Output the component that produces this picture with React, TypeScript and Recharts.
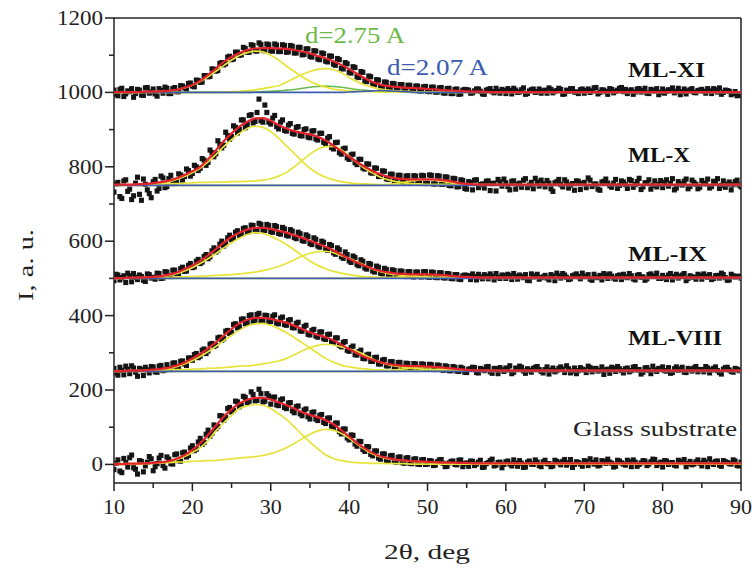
import React from 'react'
import { ComposedChart, Line, Scatter, XAxis, YAxis, ReferenceLine } from 'recharts'

// vertical shift of each pattern (stacked plot)
const OFFSETS = { glass: 0, viii: 250, ix: 500, x: 750, xi: 1000 }

const X_TICKS = [10, 15, 20, 25, 30, 35, 40, 45, 50, 55, 60, 65, 70, 75, 80, 85, 90]
const Y_TICKS = [0, 100, 200, 300, 400, 500, 600, 700, 800, 900, 1000, 1100, 1200]

// fit curves, sampled on FIT_X
const FIT_X = [
  10, 11, 12, 13, 14, 15, 16, 17, 18, 19,
  20, 21, 22, 23, 24, 25, 26, 27, 28, 29,
  30, 31, 32, 33, 34, 35, 36, 37, 38, 39,
  40, 41, 42, 43, 44, 45, 46, 47, 48, 49,
  50, 51, 52, 53, 54, 55, 56, 57, 58, 59,
  60, 65, 70, 75, 80, 85, 90,
]

const GLASS_FIT = [
  1, 1, 2, 2, 3, 4, 6, 9, 15, 25, 39, 57, 79, 104, 128, 148, 164, 174, 179, 179,
  174, 167, 159, 150, 140, 133, 127, 119, 108, 92, 75, 58, 43, 31, 22, 17, 13, 11, 9, 8,
  7, 6, 5, 5, 4, 4, 3, 3, 3, 3, 3, 3, 3, 3, 3, 3, 3,
]
const GLASS_P1 = [
  0, 0, 1, 1, 2, 3, 5, 8, 13, 21, 32, 45, 64, 90, 112, 132, 150, 157, 161, 159,
  150, 136, 121, 101, 80, 60, 42, 26, 16, 10, 7, 5, 4, 3, 3, 2, 2, 2, 1, 1,
  1, 1, 1, 1, 1, 1, 1, 1, 1, 1, 1, 1, 1, 1, 1, 1, 1,
]
const GLASS_P2 = [
  2, 2, 2, 3, 3, 4, 4, 5, 6, 7, 8, 9, 10, 11, 13, 15, 17, 19, 21, 24,
  29, 36, 45, 56, 69, 81, 90, 94, 92, 83, 70, 55, 40, 28, 20, 15, 12, 10, 8, 7,
  6, 5, 5, 4, 4, 4, 3, 3, 3, 3, 3, 3, 3, 3, 3, 3, 3,
]

const VIII_FIT = [
  1, 1, 2, 2, 3, 5, 7, 10, 16, 24, 35, 47, 62, 78, 96, 114, 129, 139, 144, 144,
  141, 136, 131, 123, 114, 105, 98, 92, 84, 72, 60, 49, 39, 31, 25, 20, 17, 15, 14, 14,
  13, 12, 10, 8, 6, 4, 3, 3, 2, 2, 2, 2, 2, 2, 2, 2, 2,
]
const VIII_P1 = [
  0, 0, 1, 1, 2, 3, 5, 8, 13, 20, 29, 40, 53, 67, 82, 97, 111, 122, 128, 129,
  124, 115, 104, 91, 77, 63, 49, 35, 25, 17, 12, 9, 7, 5, 4, 3, 3, 2, 2, 2,
  1, 1, 1, 1, 1, 1, 1, 1, 1, 1, 1, 1, 1, 1, 1, 1, 1,
]
const VIII_P2 = [
  1, 1, 2, 2, 2, 3, 3, 4, 5, 5, 6, 7, 8, 9, 10, 12, 14, 15, 17, 20,
  24, 28, 35, 45, 55, 64, 70, 73, 71, 66, 61, 54, 44, 33, 24, 18, 14, 11, 9, 7,
  6, 5, 4, 4, 3, 3, 2, 2, 2, 2, 2, 2, 2, 2, 2, 2, 2,
]
const VIII_P3 = [
  0, 0, 0, 0, 0, 0, 0, 0, 0, 0, 0, 0, 0, 0, 0, 0, 0, 0, 0, 0,
  0, 0, 0, 0, 0, 0, 0, 0, 0, 0, 0, 0, 0, 0, 1, 2, 4, 7, 10, 12,
  12, 11, 8, 5, 3, 2, 1, 0, 0, 0, 0, 0, 0, 0, 0, 0, 0,
]

const IX_FIT = [
  1, 1, 2, 2, 3, 4, 6, 10, 16, 25, 35, 47, 62, 79, 96, 112, 123, 131, 136, 136,
  133, 128, 123, 116, 109, 101, 93, 85, 75, 64, 53, 43, 34, 26, 20, 16, 13, 12, 11, 11,
  11, 10, 9, 7, 5, 4, 3, 2, 2, 2, 2, 2, 2, 2, 2, 2, 2,
]
const IX_P1 = [
  0, 0, 1, 1, 2, 3, 5, 8, 13, 20, 29, 40, 53, 67, 82, 96, 108, 118, 123, 121,
  113, 103, 91, 77, 61, 47, 35, 26, 19, 14, 10, 7, 5, 4, 3, 2, 2, 2, 1, 1,
  1, 1, 1, 1, 1, 1, 1, 1, 1, 1, 1, 1, 1, 1, 1, 1, 1,
]
const IX_P2 = [
  1, 1, 1, 2, 2, 2, 3, 3, 4, 4, 5, 6, 7, 8, 9, 10, 12, 14, 17, 21,
  26, 32, 40, 50, 60, 67, 72, 73, 69, 61, 54, 45, 35, 25, 18, 13, 10, 8, 6, 5,
  4, 3, 3, 2, 2, 2, 2, 2, 2, 2, 2, 2, 2, 2, 2, 2, 2,
]
const IX_P3 = [
  0, 0, 0, 0, 0, 0, 0, 0, 0, 0, 0, 0, 0, 0, 0, 0, 0, 0, 0, 0,
  0, 0, 0, 0, 0, 0, 0, 0, 0, 0, 0, 0, 0, 0, 1, 2, 3, 6, 8, 10,
  10, 9, 7, 4, 3, 2, 1, 0, 0, 0, 0, 0, 0, 0, 0, 0, 0,
]

const X_FIT = [
  2, 2, 2, 3, 4, 6, 9, 13, 19, 28, 38, 50, 70, 94, 119, 140, 158, 171, 180, 181,
  174, 162, 153, 146, 141, 137, 131, 121, 107, 92, 77, 63, 50, 39, 30, 23, 19, 17, 16, 16,
  16, 16, 14, 11, 7, 4, 3, 2, 2, 2, 2, 2, 2, 2, 2, 2, 2,
]
const X_P1 = [
  0, 0, 1, 1, 2, 4, 6, 10, 16, 24, 34, 46, 63, 83, 104, 123, 140, 153, 159, 156,
  145, 127, 106, 86, 65, 46, 32, 22, 15, 10, 7, 5, 4, 3, 2, 2, 2, 1, 1, 1,
  1, 1, 1, 1, 1, 1, 1, 1, 1, 1, 1, 1, 1, 1, 1, 1, 1,
]
const X_P2 = [
  1, 2, 2, 2, 3, 3, 4, 5, 5, 6, 7, 8, 8, 9, 9, 10, 10, 11, 12, 14,
  18, 25, 35, 50, 67, 84, 97, 104, 105, 96, 79, 61, 45, 33, 22, 15, 10, 7, 5, 4,
  3, 3, 3, 2, 2, 2, 2, 2, 2, 2, 2, 2, 2, 2, 2, 2, 2,
]
const X_P3 = [
  0, 0, 0, 0, 0, 0, 0, 0, 0, 0, 0, 0, 0, 0, 0, 0, 0, 0, 0, 0,
  0, 0, 0, 0, 0, 0, 0, 0, 0, 0, 0, 0, 0, 0, 1, 3, 5, 8, 12, 15,
  16, 14, 11, 7, 4, 2, 1, 0, 0, 0, 0, 0, 0, 0, 0, 0, 0,
]

const XI_FIT = [
  1, 1, 1, 1, 2, 2, 3, 4, 7, 13, 20, 31, 47, 64, 82, 95, 106, 114, 118, 119,
  119, 118, 117, 114, 110, 105, 98, 92, 84, 74, 63, 50, 38, 28, 21, 17, 15, 13, 12, 11,
  9, 8, 6, 5, 4, 3, 2, 2, 1, 1, 1, 1, 1, 1, 1, 1, 1,
]
const XI_P1 = [
  0, 0, 0, 0, 1, 2, 3, 4, 7, 12, 19, 29, 42, 57, 72, 87, 99, 107, 111, 109,
  100, 87, 71, 56, 42, 30, 21, 14, 9, 6, 4, 3, 2, 2, 1, 1, 1, 1, 1, 1,
  1, 1, 1, 1, 1, 1, 1, 1, 1, 1, 1, 1, 1, 1, 1, 1, 1,
]
const XI_P2 = [
  0, 0, 0, 0, 0, 0, 0, 0, 0, 0, 0, 0, 0, 0, 1, 2, 3, 5, 7, 10,
  14, 18, 27, 38, 48, 56, 62, 64, 61, 53, 40, 29, 20, 14, 9, 6, 4, 3, 2, 1,
  1, 1, 1, 0, 0, 0, 0, 0, 0, 0, 0, 0, 0, 0, 0, 0, 0,
]
// d = 2.75 A component
const XI_GREEN = [
  0, 0, 0, 0, 0, 0, 0, 0, 0, 0, 0, 0, 0, 0, 0, 0, 0, 0, 1, 2,
  3, 4, 6, 8, 11, 14, 16, 17, 16, 14, 11, 8, 6, 4, 3, 2, 1, 1, 0, 0,
  0, 0, 0, 0, 0, 0, 0, 0, 0, 0, 0, 0, 0, 0, 0, 0, 0,
]
// d = 2.07 A component
const XI_BLUE = [
  0, 0, 0, 0, 0, 0, 0, 0, 0, 0, 0, 0, 0, 0, 0, 0, 0, 0, 0, 0,
  0, 0, 0, 0, 0, 0, 0, 0, 0, 0, 1, 2, 3, 4, 5, 4, 3, 2, 1, 0,
  0, 0, 0, 0, 0, 0, 0, 0, 0, 0, 0, 0, 0, 0, 0, 0, 0,
]

// measured points: set A at 10, 10.5 ... 90, set B at 10.25, 10.75 ... 89.75 (rows of 5 deg)
const SCAN_STEP = 0.5
const SCAN_A_START = 10
const SCAN_B_START = 10.25

const GLASS_SCAN_A = [
  -14, 12, -22, 5, 18, -9, -26, 8, -4, 21,
  -17, 2, 24, -10, 14, 1, 28, 9, 33, 24,
  50, 41, 70, 59, 92, 84, 96, 131, 119, 150,
  141, 170, 155, 183, 166, 195, 171, 202, 168, 190,
  162, 181, 158, 176, 150, 166, 139, 157, 131, 149,
  122, 141, 118, 134, 110, 125, 99, 111, 82, 95,
  66, 78, 49, 61, 35, 47, 23, 36, 14, 28,
  9, 24, 6, 20, 3, 18, 2, 15, 0, 13,
  1, 9, -2, 12, 3, -5, 8, 0, 11, -6,
  4, 9, -3, 6, -8, 2, 10, -4, 5, -9,
  7, 1, 12, -5, 3, -7, 9, 0, 6, -6,
  11, 2, -4, 8, -1, 13, 4, -8, 7, 1,
  10, -3, 5, 12, -2, 8, 14, 3, -5, 9,
  1, 11, -6, 6, 0, 10, -3, 7, 13, 2,
  -7, 9, 4, -2, 11, 5, -6, 8, 1, 12,
  -4, 6, 15, 0, 9, -5, 7, 2, 12, -3,
  6,
]
const GLASS_SCAN_B = [
  3, -18, 16, -7, 25, -13, 10, -20, 6, 15,
  -6, 17, -3, 20, 2, 26, 10, 31, 20, 44,
  37, 60, 54, 81, 76, 106, 102, 130, 126, 153,
  145, 168, 160, 180, 170, 188, 172, 190, 170, 184,
  180, 160, 173, 153, 165, 144, 155, 136, 146, 128,
  139, 122, 132, 113, 124, 103, 111, 88, 95, 71,
  79, 55, 62, 40, 48, 27, 36, 17, 28, 11,
  23, 8, 19, 5, 17, 3, 14, 1, 12, 0,
  10, -3, 7, 13, -6, 4, 9, -1, 12, 2,
  -5, 8, 1, 11, -7, 5, 14, -2, 6, 0,
  9, -4, 3, 10, -8, 6, 1, 12, -3, 7,
  2, -6, 11, 4, 8, -2, 13, 0, 5, -5,
  8, 15, 1, -4, 10, 3, 6, -7, 11, 4,
  -2, 7, 12, -5, 4, 9, 1, 14, -3, 6,
  10, 0, 5, -4, 8, 13, 2, -1, 7, 3,
  11, -6, 4, 8, -2, 10, 5, 1, 9, -4,
]
const VIII_SCAN_A = [
  8, -10, 3, 14, -6, 9, -13, 5, 11, -4,
  12, -2, 16, 4, 8, 22, 13, 27, 20, 36,
  30, 48, 41, 60, 55, 75, 70, 92, 88, 110,
  105, 128, 120, 141, 131, 152, 138, 156, 137, 150,
  134, 152, 128, 146, 124, 139, 117, 132, 108, 124,
  98, 113, 92, 106, 86, 100, 78, 90, 66, 80,
  54, 68, 44, 57, 34, 46, 27, 38, 20, 32,
  15, 26, 12, 24, 9, 21, 8, 20, 7, 19,
  6, 18, 5, 16, 3, 13, 2, 11, 0, 8,
  -3, 7, 10, -4, 5, 12, -1, 8, -6, 4,
  9, 15, -2, 6, 11, -5, 3, 8, 13, 0,
  5, -7, 9, 2, 12, -3, 7, 1, -6, 10,
  4, 14, -1, 8, 3, -8, 6, 11, 0, 7,
  -4, 9, 2, 13, 5, -2, 10, -6, 4, 8,
  12, 1, -5, 7, 3, 11, -3, 6, 9, -1,
  5, 13, -4, 8, 2, -7, 10, 4, -2, 6,
  3,
]
const VIII_SCAN_B = [
  -4, 11, -9, 6, 15, -2, 8, -11, 4, 13,
  -1, 14, 2, 18, 5, 23, 10, 28, 16, 36,
  45, 37, 57, 48, 73, 67, 90, 84, 108, 102,
  126, 117, 140, 128, 150, 135, 153, 136, 151, 134,
  148, 130, 143, 126, 137, 118, 129, 109, 120, 100,
  110, 95, 106, 88, 99, 80, 90, 70, 78, 57,
  64, 45, 53, 35, 44, 27, 37, 20, 30, 15,
  26, 12, 24, 9, 22, 7, 21, 8, 20, 7,
  19, 6, 17, 5, 15, 2, 13, 1, 11, -2,
  6, 11, -3, 8, 2, 13, -5, 7, 10, 0,
  4, -6, 9, 14, 1, 7, -2, 11, 5, -4,
  12, 3, -1, 8, 6, 15, -4, 9, 2, 6,
  -3, 10, 7, 1, 12, 4, -5, 8, 13, 2,
  7, -1, 11, 4, -7, 9, 3, 14, 0, 6,
  2, 10, -3, 12, 6, -2, 8, 1, 13, 5,
  -1, 9, 4, 12, -3, 6, 11, 0, 8, 2,
]
const IX_SCAN_A = [
  -6, 9, 2, -11, 7, 13, -3, 5, -8, 10,
  3, 14, 0, 18, 6, 22, 11, 26, 19, 35,
  29, 46, 40, 59, 53, 74, 71, 92, 87, 109,
  104, 124, 116, 134, 124, 143, 129, 148, 130, 145,
  126, 142, 121, 137, 116, 131, 110, 124, 102, 117,
  94, 109, 87, 100, 79, 91, 69, 82, 58, 71,
  47, 60, 37, 50, 28, 40, 20, 33, 14, 27,
  10, 23, 7, 20, 6, 18, 5, 17, 5, 18,
  4, 17, 3, 15, 2, 13, 0, 10, -2, 7,
  8, -3, 5, 11, -1, 6, 12, -4, 3, 9,
  0, 7, 13, -2, 5, 10, -6, 4, 11, 2,
  8, -4, 6, 14, 1, 9, -3, 7, 12, -1,
  5, 10, -5, 3, 8, 13, 0, 6, -2, 9,
  11, 2, 7, -4, 10, 4, -1, 12, 6, 0,
  8, -3, 13, 5, 1, 9, -6, 7, 3, 11,
  -2, 6, 10, 0, 8, 14, 2, -4, 7, 5,
  1,
]
const IX_SCAN_B = [
  11, -4, 7, 14, -9, 3, 9, -5, 12, 1,
  -2, 13, 1, 17, 5, 22, 10, 30, 20, 40,
  31, 51, 44, 64, 58, 82, 76, 100, 93, 116,
  108, 128, 119, 136, 126, 142, 128, 145, 129, 142,
  124, 139, 119, 133, 114, 127, 107, 120, 100, 113,
  91, 105, 84, 97, 76, 88, 65, 77, 54, 64,
  43, 56, 34, 46, 25, 38, 17, 30, 12, 24,
  8, 21, 6, 19, 5, 18, 4, 17, 4, 18,
  3, 16, 2, 15, 1, 12, -1, 10, -3, 9,
  7, 12, -4, 4, 10, -1, 6, 13, 0, 8,
  11, -3, 5, 9, 2, -5, 12, 7, -2, 4,
  1, 10, -6, 7, 13, 3, -1, 9, 5, 14,
  6, -2, 11, 2, -4, 9, 12, 1, 7, -3,
  4, 13, -1, 8, 3, -5, 10, 6, 14, 0,
  2, 9, -4, 11, 6, 13, 0, 4, -2, 8,
  12, 3, -3, 7, 1, 10, -5, 11, 4, 6,
]
const X_SCAN_A = [
  -18, 8, -35, 15, -10, -28, 22, -40, 3, -22,
  10, -15, 25, -6, 18, 5, 12, 28, 24, 40,
  32, 50, 46, 68, 62, 88, 85, 110, 108, 134,
  131, 156, 150, 176, 164, 190, 172, 232, 170, 196,
  165, 188, 152, 176, 146, 166, 138, 158, 133, 152,
  128, 147, 122, 140, 112, 131, 98, 116, 84, 100,
  70, 84, 56, 70, 44, 57, 33, 46, 24, 38,
  16, 30, 12, 27, 9, 26, 8, 25, 7, 26,
  6, 27, 4, 25, 3, 22, -1, 18, -3, 13,
  -10, 8, 14, -6, 4, 11, -14, 6, 16, -2,
  7, -12, 12, 3, -5, 18, 1, -9, 9, 14,
  -4, 6, -16, 10, 2, 15, -7, 5, 12, -11,
  8, 20, -3, 4, -13, 11, 6, -5, 16, 0,
  9, -8, 13, 2, 19, -4, 7, -10, 12, 3,
  -6, 15, 5, -12, 10, 1, 17, -3, 8, -9,
  13, 4, -7, 11, 18, 0, -5, 9, 2, 14,
  -4,
]
const X_SCAN_B = [
  4, -30, 12, -16, -38, 6, -24, 17, -12, -33,
  16, -8, 20, -3, 27, 8, 31, 14, 44, 25,
  54, 40, 72, 54, 95, 77, 120, 101, 143, 124,
  160, 141, 176, 155, 188, 168, 196, 174, 216, 170,
  181, 158, 170, 148, 162, 140, 156, 134, 150, 130,
  146, 125, 140, 116, 127, 102, 115, 88, 98, 74,
  82, 61, 70, 47, 58, 34, 47, 24, 39, 18,
  30, 11, 27, 9, 25, 7, 26, 6, 27, 5,
  28, 4, 26, 3, 23, 0, 19, -4, 15, -8,
  10, -12, 15, 2, -7, 12, 5, -15, 9, 17,
  -3, 11, -10, 6, 14, -6, 8, 19, -2, 4,
  13, -9, 7, 16, -4, 9, 1, -13, 11, 5,
  -6, 14, 3, -10, 9, 17, -1, 6, -8, 12,
  2, 16, -5, 10, -11, 7, 15, 0, -4, 13,
  8, -2, 18, -7, 4, 11, -9, 14, 3, -5,
  6, 17, -3, 9, -8, 12, 3, -12, 10, 1,
]
const XI_SCAN_A = [
  6, -9, 11, -4, 2, -13, 8, -7, 12, -2,
  9, -10, 5, 14, -3, 10, 2, 18, 12, 24,
  17, 33, 27, 45, 42, 63, 57, 78, 74, 95,
  88, 108, 100, 121, 108, 128, 112, 133, 114, 130,
  112, 130, 110, 128, 108, 126, 106, 121, 101, 117,
  97, 112, 90, 106, 84, 98, 76, 91, 65, 80,
  54, 69, 42, 56, 31, 44, 22, 34, 15, 28,
  11, 24, 9, 21, 7, 19, 6, 17, 4, 15,
  3, 14, 1, 12, -1, 10, -3, 8, -5, 6,
  7, -2, 4, 9, -4, 6, 10, -1, 3, 8,
  -3, 5, 11, 0, 7, -5, 4, 9, 2, -2,
  6, 12, -1, 5, 8, -4, 3, 10, 1, 7,
  -2, 9, 4, 13, 0, 6, -5, 8, 3, 11,
  2, -3, 7, 1, 10, 5, -2, 8, 4, -6,
  9, 3, 6, -1, 11, 2, -4, 7, 0, 5,
  8, -2, 4, 10, 1, -5, 6, 3, -3, -9,
  -7,
]
const XI_SCAN_B = [
  -5, 8, -11, 4, 10, -3, 6, -8, 13, 1,
  -4, 10, -2, 11, -3, 13, 2, 17, 8, 25,
  15, 32, 28, 45, 43, 62, 59, 80, 77, 97,
  90, 108, 101, 118, 108, 126, 111, 129, 112, 128,
  111, 127, 110, 126, 109, 124, 106, 121, 102, 117,
  95, 111, 88, 104, 82, 97, 73, 88, 63, 77,
  52, 67, 40, 54, 29, 42, 20, 33, 13, 27,
  10, 23, 8, 21, 6, 19, 5, 17, 4, 16,
  2, 14, 1, 13, -2, 11, -3, 9, -4, 8,
  6, -1, 9, 3, -5, 8, 2, 11, -2, 5,
  10, -4, 6, 1, 12, -3, 7, 0, 9, 4,
  -2, 8, 3, 11, -5, 6, 10, 1, -3, 9,
  5, 0, 12, -4, 7, 2, 10, -1, 6, 13,
  8, 4, -5, 9, 1, 11, -3, 6, 10, 0,
  -2, 7, 12, 3, -6, 9, 4, 10, -1, 6,
  3, 10, -3, 7, 12, 0, 5, -6, 2, -8,
]

const RED = '#e3232c'
const YELLOW = '#e6e43a'
const BLUE = '#3c5cb0'
const GREEN = '#6cbb4a'
const AXIS = '#222'
const FONT = 'Liberation Serif, Times New Roman, serif'

const fitRows = FIT_X.map((x, i) => ({
  x,
  gFit: GLASS_FIT[i] + OFFSETS.glass,
  gP1: GLASS_P1[i] + OFFSETS.glass,
  gP2: GLASS_P2[i] + OFFSETS.glass,
  viiiFit: VIII_FIT[i] + OFFSETS.viii,
  viiiP1: VIII_P1[i] + OFFSETS.viii,
  viiiP2: VIII_P2[i] + OFFSETS.viii,
  viiiP3: VIII_P3[i] + OFFSETS.viii,
  viiiBase: OFFSETS.viii,
  ixFit: IX_FIT[i] + OFFSETS.ix,
  ixP1: IX_P1[i] + OFFSETS.ix,
  ixP2: IX_P2[i] + OFFSETS.ix,
  ixP3: IX_P3[i] + OFFSETS.ix,
  ixBase: OFFSETS.ix,
  xFit: X_FIT[i] + OFFSETS.x,
  xP1: X_P1[i] + OFFSETS.x,
  xP2: X_P2[i] + OFFSETS.x,
  xP3: X_P3[i] + OFFSETS.x,
  xBase: OFFSETS.x,
  xiFit: XI_FIT[i] + OFFSETS.xi,
  xiP1: XI_P1[i] + OFFSETS.xi,
  xiP2: XI_P2[i] + OFFSETS.xi,
  xiGreen: XI_GREEN[i] + OFFSETS.xi,
  xiBlue: XI_BLUE[i] + OFFSETS.xi,
}))

const toPoints = (vals: number[], start: number, offset: number) =>
  vals.map((v, i) => ({ x: start + i * SCAN_STEP, y: v + offset }))

const scans = [
  toPoints(GLASS_SCAN_A, SCAN_A_START, OFFSETS.glass),
  toPoints(GLASS_SCAN_B, SCAN_B_START, OFFSETS.glass),
  toPoints(VIII_SCAN_A, SCAN_A_START, OFFSETS.viii),
  toPoints(VIII_SCAN_B, SCAN_B_START, OFFSETS.viii),
  toPoints(IX_SCAN_A, SCAN_A_START, OFFSETS.ix),
  toPoints(IX_SCAN_B, SCAN_B_START, OFFSETS.ix),
  toPoints(X_SCAN_A, SCAN_A_START, OFFSETS.x),
  toPoints(X_SCAN_B, SCAN_B_START, OFFSETS.x),
  toPoints(XI_SCAN_A, SCAN_A_START, OFFSETS.xi),
  toPoints(XI_SCAN_B, SCAN_B_START, OFFSETS.xi),
]

const yellowKeys = ['gP1', 'gP2', 'viiiP1', 'viiiP2', 'viiiP3', 'ixP1', 'ixP2', 'ixP3', 'xP1', 'xP2', 'xP3', 'xiP1', 'xiP2']
const blueKeys = ['viiiBase', 'ixBase', 'xBase', 'xiBlue']
const redKeys = ['gFit', 'viiiFit', 'ixFit', 'xFit', 'xiFit']

const Square = (props: any) => {
  const { cx, cy } = props
  if (cx == null || cy == null) return null
  return <rect x={cx - 2.5} y={cy - 2.6} width={5} height={5.2} fill="#151515" />
}

const XTick = (props: any) => {
  const { x, y, payload } = props
  const major = payload.value % 10 === 0
  return (
    <g>
      <line x1={x} x2={x} y1={y} y2={y + (major ? 8 : 5)} stroke={AXIS} strokeWidth={1.5} />
      {major && (
        <text x={x} y={y + 31} textAnchor="middle" fontSize={21} fill={AXIS} fontFamily={FONT}
          textLength={22} lengthAdjust="spacingAndGlyphs">
          {payload.value}
        </text>
      )}
    </g>
  )
}

const YTick = (props: any) => {
  const { x, y, payload } = props
  const major = payload.value % 200 === 0
  const label = String(payload.value)
  return (
    <g>
      <line x1={x - (major ? 9 : 5)} x2={x} y1={y} y2={y} stroke={AXIS} strokeWidth={1.5} />
      {major && (
        <text x={x - 11} y={y + 7} textAnchor="end" fontSize={21} fill={AXIS} fontFamily={FONT}
          textLength={label.length * 11.5} lengthAdjust="spacingAndGlyphs">
          {label}
        </text>
      )}
    </g>
  )
}

export default function App() {
  return (
    <div style={{ position: 'relative', width: 756, height: 572, background: '#fff' }}>
      <style>{'body{margin:0}'}</style>
      <ComposedChart
        width={756}
        height={572}
        margin={{ top: 18, right: 15, left: 0, bottom: 0 }}
        style={{ fontFamily: FONT }}
      >
        <XAxis
          dataKey="x"
          type="number"
          domain={[10, 90]}
          ticks={X_TICKS}
          interval={0}
          allowDataOverflow
          height={89}
          tickLine={false}
          tickSize={0}
          tickMargin={0}
          tick={<XTick />}
          axisLine={{ stroke: AXIS, strokeWidth: 1.5 }}
        />
        <YAxis
          type="number"
          domain={[-50, 1200]}
          ticks={Y_TICKS}
          interval={0}
          allowDataOverflow
          width={114}
          tickLine={false}
          tickSize={0}
          tickMargin={0}
          tick={<YTick />}
          axisLine={{ stroke: AXIS, strokeWidth: 1.5 }}
        />
        <ReferenceLine y={1200} stroke={AXIS} strokeWidth={1.5} />
        <ReferenceLine x={90} stroke={AXIS} strokeWidth={1.5} />

        {scans.map((pts, i) => (
          <Scatter key={'s' + i} data={pts} dataKey="y" shape={<Square />} isAnimationActive={false} zIndex={300} />
        ))}

        <Line data={fitRows} dataKey="xiGreen" type="monotone" stroke={GREEN} strokeWidth={1.6}
          dot={false} isAnimationActive={false} zIndex={700} />
        {yellowKeys.map(k => (
          <Line key={k} data={fitRows} dataKey={k} type="monotone" stroke={YELLOW} strokeWidth={1.7}
            dot={false} isAnimationActive={false} zIndex={710} />
        ))}
        {blueKeys.map(k => (
          <Line key={k} data={fitRows} dataKey={k} type="monotone" stroke={BLUE} strokeWidth={1.6}
            dot={false} isAnimationActive={false} zIndex={720} />
        ))}
        {redKeys.map(k => (
          <Line key={k} data={fitRows} dataKey={k} type="monotone" stroke={RED} strokeWidth={2.2}
            dot={false} isAnimationActive={false} zIndex={730} />
        ))}
      </ComposedChart>

      <svg width={756} height={572} style={{ position: 'absolute', left: 0, top: 0, pointerEvents: 'none' }}
        fontFamily={FONT}>
        <text x={305} y={43} fontSize={24} fill={GREEN} textLength={100} lengthAdjust="spacingAndGlyphs">d=2.75 A</text>
        <text x={387} y={75} fontSize={24} fill={BLUE} textLength={101} lengthAdjust="spacingAndGlyphs">d=2.07 A</text>
        <text x={628} y={77} fontSize={21} fontWeight="bold" fill="#111" textLength={77} lengthAdjust="spacingAndGlyphs">ML-XI</text>
        <text x={628} y={162} fontSize={21} fontWeight="bold" fill="#111" textLength={62} lengthAdjust="spacingAndGlyphs">ML-X</text>
        <text x={628} y={261} fontSize={21} fontWeight="bold" fill="#111" textLength={79} lengthAdjust="spacingAndGlyphs">ML-IX</text>
        <text x={628} y={345} fontSize={21} fontWeight="bold" fill="#111" textLength={94} lengthAdjust="spacingAndGlyphs">ML-VIII</text>
        <text x={573} y={436} fontSize={22} fill="#222" textLength={164} lengthAdjust="spacingAndGlyphs">Glass substrate</text>
        <text x={427} y={559} fontSize={22} fill="#222" textAnchor="middle" textLength={86} lengthAdjust="spacingAndGlyphs">2θ, deg</text>
        <text transform="translate(33,265) rotate(-90)" fontSize={22} fill="#222" textAnchor="middle"
          textLength={72} lengthAdjust="spacingAndGlyphs">I, a. u.</text>
      </svg>
    </div>
  )
}
